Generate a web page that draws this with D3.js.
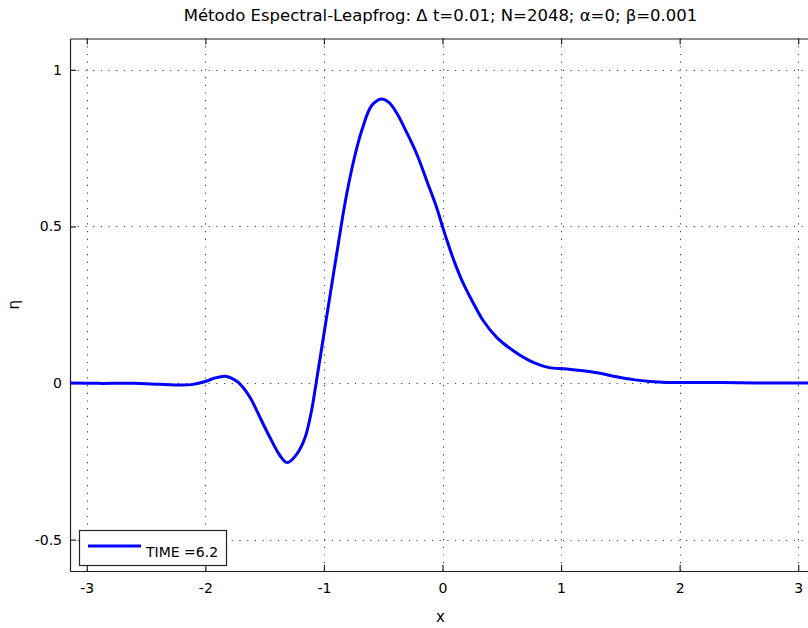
<!DOCTYPE html>
<html>
<head>
<meta charset="utf-8">
<script src="https://cdn.jsdelivr.net/npm/d3@7"></script>
<style>
  html, body { margin: 0; padding: 0; background: #fff; }
  text { font-family: "DejaVu Sans", sans-serif; fill: #000; }
</style>
</head>
<body>
<div id="mainChart"></div>
<script>
const titleText = 'Método Espectral-Leapfrog: Δ t=0.01; N=2048; α=0; β=0.001';
const legendLabel = 'TIME =6.2';

const xTicks = [ -3, -2, -1, 0, 1, 2, 3 ];
const yTicks = [ -0.5, 0, 0.5, 1 ];

// x positions and eta values
const xValues = [
    -3.1416, -2.9, -2.6, -2.45, -2.25, -2.12, -2.0, -1.92, -1.834, -1.78,
    -1.722, -1.623, -1.539, -1.455, -1.37, -1.309, -1.229, -1.159, -1.103, -1.07,
    -1.047, -1.005, -0.963, -0.921, -0.879, -0.822, -0.752, -0.681, -0.597, -0.513,
    -0.45, -0.386, -0.302, -0.218, -0.133, -0.049, 0, 0.035, 0.105, 0.175,
    0.26, 0.344, 0.457, 0.597, 0.738, 0.892, 1.047, 1.187, 1.328, 1.469,
    1.609, 1.75, 1.89, 2.17, 2.5, 2.8, 3.1416
];
const etaValues = [
    0, -0.001, -0.001, -0.003, -0.006, -0.005, 0.005, 0.016, 0.022, 0.016,
    0.002, -0.046, -0.11, -0.174, -0.232, -0.254, -0.227, -0.174, -0.085, -0.01,
    0.045, 0.145, 0.245, 0.345, 0.444, 0.575, 0.705, 0.806, 0.886, 0.907,
    0.895, 0.862, 0.8, 0.732, 0.646, 0.56, 0.5, 0.458, 0.382, 0.318,
    0.255, 0.199, 0.146, 0.103, 0.071, 0.05, 0.045, 0.039, 0.031, 0.02,
    0.011, 0.005, 0.002, 0.002, 0.001, 0, 0
];

const CHART_SIZE = { width: 808, height: 628 };
const PLOT = { left: 70, right: 815, top: 38.5, bottom: 571 };

const x = d3.scaleLinear()
    .domain([ -Math.PI, Math.PI ])
    .range([ PLOT.left, PLOT.right ]);
const y = d3.scaleLinear()
    .domain([ -0.6, 1.1 ])
    .range([ PLOT.bottom, PLOT.top ]);

const svg = d3.select('#mainChart')
    .append('svg')
    .attr('width', CHART_SIZE.width)
    .attr('height', CHART_SIZE.height);

// grid
const grid = svg.append('g')
    .attr('stroke', '#444')
    .attr('stroke-width', 1.1)
    .attr('stroke-dasharray', '1.2,6.5');
grid.selectAll('.vgrid')
    .data(xTicks)
    .join('line')
    .attr('x1', d => Math.round(x(d)) + 0.5)
    .attr('x2', d => Math.round(x(d)) + 0.5)
    .attr('y1', PLOT.top)
    .attr('y2', PLOT.bottom);
grid.selectAll('.hgrid')
    .data(yTicks)
    .join('line')
    .attr('x1', PLOT.left)
    .attr('x2', PLOT.right)
    .attr('y1', d => Math.round(y(d)) + 0.5)
    .attr('y2', d => Math.round(y(d)) + 0.5);

// axes (ticks pointing inward, MATLAB style)
const fmt = d => String(d);
const bottomAxis = svg.append('g')
    .attr('transform', `translate(0, ${PLOT.bottom})`)
    .call(d3.axisBottom(x).tickValues(xTicks).tickSizeInner(-6).tickSizeOuter(0).tickPadding(12).tickFormat(fmt));
const topAxis = svg.append('g')
    .attr('transform', `translate(0, ${PLOT.top})`)
    .call(d3.axisTop(x).tickValues(xTicks).tickSizeInner(-6).tickSizeOuter(0).tickFormat(''));
const leftAxis = svg.append('g')
    .attr('transform', `translate(${PLOT.left}, 0)`)
    .call(d3.axisLeft(y).tickValues(yTicks).tickSizeInner(-6).tickSizeOuter(0).tickPadding(8).tickFormat(fmt));
const rightAxis = svg.append('g')
    .attr('transform', `translate(${PLOT.right}, 0)`)
    .call(d3.axisRight(y).tickValues(yTicks).tickSizeInner(-6).tickSizeOuter(0).tickFormat(''));

[ bottomAxis, topAxis, leftAxis, rightAxis ].forEach(g => {
    g.select('.domain').attr('stroke', '#222').attr('stroke-width', 1.2);
    g.selectAll('.tick line').attr('stroke', '#222').attr('stroke-width', 1.2);
    g.selectAll('.tick text')
        .style('font-family', '"DejaVu Sans", sans-serif')
        .style('font-size', '14px')
        .attr('fill', '#000');
});

// the curve
const lineGen = d3.line()
    .x(d => x(d[0]))
    .y(d => y(d[1]))
    .curve(d3.curveCatmullRom.alpha(0.5));
svg.append('path')
    .datum(xValues.map((v, i) => [ v, etaValues[i] ]))
    .attr('fill', 'none')
    .attr('stroke', '#0000ff')
    .attr('stroke-width', 3)
    .attr('stroke-linejoin', 'round')
    .attr('d', lineGen);

// title and labels
svg.append('text')
    .attr('x', (PLOT.left + PLOT.right) / 2 - 2)
    .attr('y', 21)
    .attr('text-anchor', 'middle')
    .style('font-size', '16.5px')
    .text(titleText);
svg.append('text')
    .attr('x', (PLOT.left + PLOT.right) / 2 - 2)
    .attr('y', 622)
    .attr('text-anchor', 'middle')
    .style('font-size', '15px')
    .text('x');
svg.append('text')
    .attr('transform', `translate(19, ${(PLOT.top + PLOT.bottom) / 2}) rotate(-90)`)
    .attr('text-anchor', 'middle')
    .style('font-size', '15px')
    .text('η');

// legend
const legend = svg.append('g');
legend.append('rect')
    .attr('x', 79.5).attr('y', 530.5)
    .attr('width', 147).attr('height', 35)
    .attr('fill', '#fff')
    .attr('stroke', '#222')
    .attr('stroke-width', 1.2);
legend.append('line')
    .attr('x1', 88).attr('x2', 141)
    .attr('y1', 546).attr('y2', 546)
    .attr('stroke', '#0000ff')
    .attr('stroke-width', 3);
legend.append('text')
    .attr('x', 146).attr('y', 557)
    .style('font-size', '14px')
    .text(legendLabel);
</script>
</body>
</html>
